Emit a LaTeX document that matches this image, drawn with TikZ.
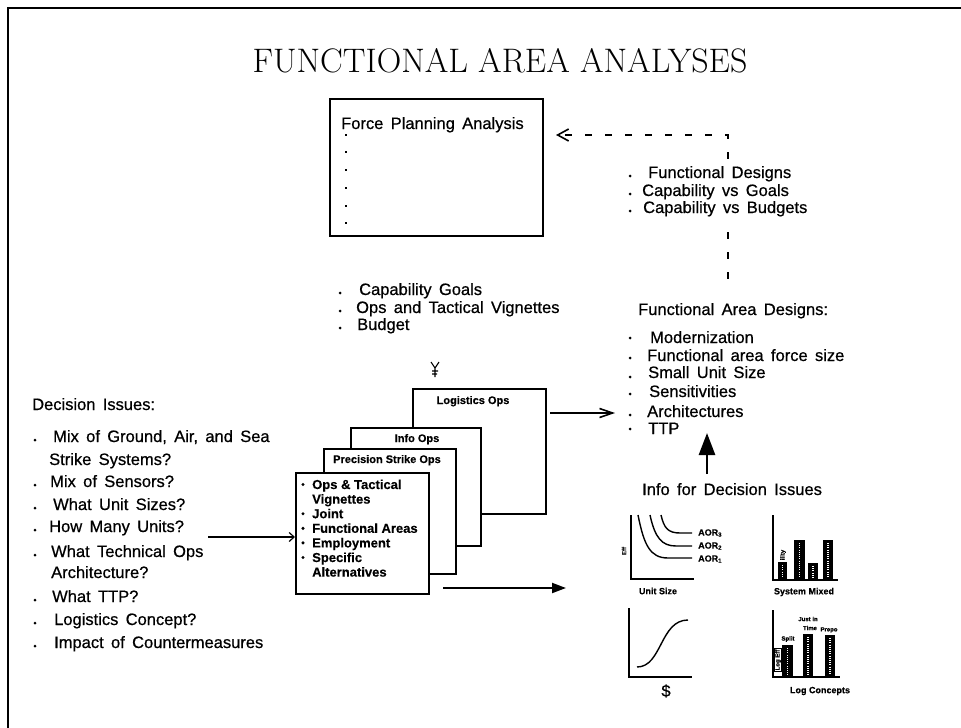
\documentclass[tikz,border=0pt]{standalone}
\usepackage{fontspec}
\newfontfamily\sans[WordSpace=1.6, FakeBold=0.6]{Liberation Sans}
\newfontfamily\sansb[FakeBold=0.3]{Liberation Sans Bold}
\usetikzlibrary{arrows.meta}
\begin{document}
\begin{tikzpicture}[x=1pt,y=-1pt,
 lbl/.style={font=\sans\fontsize{16.5}{19}\selectfont, anchor=base west, inner sep=0pt},
 page/.style={draw, fill=white, line width=1.8pt, anchor=north west, inner sep=0pt},
 pagelbl/.style={font=\sansb\fontsize{11}{13}\selectfont, anchor=base, inner sep=0pt},
 boxtxt/.style={font=\sansb\fontsize{13}{14.6}\selectfont, anchor=base west, inner sep=0pt},
 small/.style={font=\sansb\fontsize{9}{10}\selectfont, inner sep=0pt},
 tiny/.style={font=\sansb\fontsize{6}{7}\selectfont, inner sep=0pt},
 axis/.style={line width=1.6pt},
 curve/.style={line width=1.4pt},
 speck/.style={white, line width=1.6pt, dash pattern=on 1pt off 1.2pt},
]
\useasboundingbox (0,0) rectangle (961,728);
\fill[white] (0,0) rectangle (961,728);
% frame
\draw[line width=2pt] (8,728) -- (8,8) -- (961,8);
% title
\node[font=\fontsize{34}{39}\selectfont\addfontfeature{LetterSpace=10,FakeBold=0.4}, anchor=base, inner sep=0pt] (title) at (500,72) {FUNCTIONAL AREA ANALYSES};

% Force planning box
\node[draw, line width=2pt, minimum width=213pt, minimum height=137pt, anchor=north west, inner sep=0pt] (fpa) at (329,98) {};
\node[lbl] (fpat) at (341,129) {Force Planning Analysis};
\foreach \y in {135,152,170,188,206,223} \fill (344.8,\y-1.2) rectangle ++(2.4,2.4);

% Functional area designs (needed for connector)
\node[lbl] (fadt) at (638,315) {Functional Area Designs:};

% dashed feedback connector
\coordinate (corner) at (728,135);
\draw[line width=2pt, dash pattern=on 7pt off 13pt, shorten <=24pt,
      -{Straight Barb[length=11pt,width=12pt,line width=1.6pt]}]
  (fadt.north -| corner) -- (corner) -- ([xshift=12pt]fpa.east |- corner);
\fill[white] (622,159) rectangle (815,222);
\node[lbl] (fd1) at (648,178) {Functional Designs};
\node[lbl] (fd2) at (642,196) {Capability vs Goals};
\node[lbl] (fd3) at (643,213) {Capability vs Budgets};
\foreach \y in {178,196,213} \fill (630,\y-2) circle (1.5pt);

% capability goals block
\node[lbl] (cg1) at (359,295) {Capability Goals};
\node[lbl] (cg2) at (356,313) {Ops and Tactical Vignettes};
\node[lbl] (cg3) at (357,330) {Budget};
\foreach \y in {295,313,330} \fill (340,\y-2) circle (1.5pt);

% small glyph
\draw[line width=1.1pt] (431,362) -- (435,368) -- (439,362) (435,368) -- (435,377) (432,371) -- (438,371) (432,374) -- (437,374);

% stacked pages
\node[page, minimum width=133pt, minimum height=125pt] (logi) at (412,388) {};
\node[pagelbl] (logil) at (473,404) {Logistics Ops};
\node[page, minimum width=130pt, minimum height=118pt] (info) at (350,427) {};
\node[pagelbl] (infol) at (417,442) {Info Ops};
\node[page, minimum width=132pt, minimum height=125pt] (prec) at (323,448) {};
\node[pagelbl] (precl) at (387,463) {Precision Strike Ops};
\node[page, minimum width=133pt, minimum height=121pt] (front) at (295,472) {};
\node[boxtxt] (f1) at (312,489) {Ops \& Tactical};
\node[boxtxt] (f2) at (312,503.6) {Vignettes};
\node[boxtxt] (f3) at (312,518.2) {Joint};
\node[boxtxt] (f4) at (312,532.8) {Functional Areas};
\node[boxtxt] (f5) at (312,547.4) {Employment};
\node[boxtxt] (f6) at (312,562) {Specific};
\node[boxtxt] (f7) at (312,576.6) {Alternatives};
\foreach \y in {489,518.2,532.8,547.4,562} \fill (303,\y-4.5) circle (1.7pt);

% decision issues
\node[lbl] (dit) at (32,410) {Decision Issues:};
\node[lbl] (di1) at (53,442) {Mix of Ground, Air, and Sea};
\node[lbl] (di1b) at (49,465) {Strike Systems?};
\node[lbl] (di2) at (50,487) {Mix of Sensors?};
\node[lbl] (di3) at (53,510) {What Unit Sizes?};
\node[lbl] (di4) at (49,532) {How Many Units?};
\node[lbl] (di5) at (51,557) {What Technical Ops};
\node[lbl] (di5b) at (51,578) {Architecture?};
\node[lbl] (di6) at (52,602) {What TTP?};
\node[lbl] (di7) at (54,625) {Logistics Concept?};
\node[lbl] (di8) at (54,648) {Impact of Countermeasures};
\foreach \y in {442,487,510,532,557,602,625,648} \fill (35,\y-2) circle (1.5pt);

% functional area designs list
\node[lbl] (fa1) at (650,343) {Modernization};
\node[lbl] (fa2) at (647,361) {Functional area force size};
\node[lbl] (fa3) at (648,378) {Small Unit Size};
\node[lbl] (fa4) at (649,397) {Sensitivities};
\node[lbl] (fa5) at (647,417) {Architectures};
\node[lbl] (fa6) at (648,434) {TTP};
\foreach \y in {338,358,377,394,415,429} \fill (630,\y) circle (1.5pt);

% info for decision issues
\node[lbl] (ifd) at (642,495) {Info for Decision Issues};

% connectors
\coordinate (a1s) at (208,537);
\draw[line width=1.6pt, -{Straight Barb[length=5pt,width=9pt,line width=1.2pt]}] (a1s) -- (a1s -| front.west);
\coordinate (a2s) at (550,413);
\coordinate (a2e) at (615,413);
\draw[line width=1.6pt, -{Straight Barb[length=13pt,width=9pt,line width=1.6pt]}] (a2s) -- (a2e);
\coordinate (a3s) at (443,588);
\coordinate (a3e) at (566,588);
\draw[line width=2pt, -{Triangle[length=14pt,width=10pt]}] (a3s) -- (a3e);
\coordinate (a4s) at (707,474);
\coordinate (a4e) at (707,433);
\draw[line width=2.6pt, -{Triangle[length=22pt,width=16pt]}] (a4s) -- (a4e);

% chart 1: unit size
\draw[axis] (631,515) -- (631,579) -- (694,579);
\draw[curve] (638,515) .. controls (644,545) and (650,558) .. (668,558) -- (692,558);
\draw[curve] (650,515) .. controls (655,538) and (662,546) .. (676,546) -- (692,546);
\draw[curve] (661,515) .. controls (664,528) and (668,533) .. (680,533) -- (692,533);
\node[small, anchor=west] (aor3) at (698,533) {AOR\textsubscript{3}};
\node[small, anchor=west] (aor2) at (698,546) {AOR\textsubscript{2}};
\node[small, anchor=west] (aor1) at (698,559) {AOR\textsubscript{1}};
\node[tiny, rotate=90] (eff) at (624,551) {Eff};
\node[small] (unitsize) at (658,591) {Unit Size};

% chart 2: system mixed
\draw[axis] (773,515) -- (773,580) -- (838,580);
\fill (778,562) rectangle (787,580);
\fill (794,540) rectangle (805,580);
\fill (808,563) rectangle (818,580);
\fill (823,540) rectangle (833,580);
\foreach \x/\t in {782.5/565, 799.5/543, 813/566, 828/543} \draw[speck] (\x,\t) -- (\x,578);
\node[tiny, rotate=90] (ility) at (783,555) {ility};
\node[small] (sysmix) at (804,592) {System Mixed};

% chart 3: dollars
\draw[axis] (629,608) -- (629,677) -- (692,677);
\draw[curve] (637,667) .. controls (662,667) and (660,620) .. (688,620);
\node[font=\sans\fontsize{16.5}{19}\selectfont, inner sep=0pt] (dollar) at (666,691) {\$};

% chart 4: log concepts
\draw[axis] (773,610) -- (773,677) -- (840,677);
\fill (782,645) rectangle (793,677);
\fill (803,634) rectangle (813,677);
\fill (825,635) rectangle (835,677);
\foreach \x/\t in {787.5/648, 808/637, 830/638} \draw[speck] (\x,\t) -- (\x,675);
\node[tiny, rotate=90, draw, fill=white, line width=0.8pt, inner sep=0.8pt] (logeff) at (778,660) {Log Eff};
\node[tiny] (split) at (788,639) {Split};
\node[tiny] (justin) at (808,619) {Just in};
\node[tiny] (time) at (810,628) {Time};
\node[tiny] (prepo) at (829,630) {Prepo};
\node[small] (logcon) at (820,691) {Log Concepts};
\end{tikzpicture}
\end{document}
